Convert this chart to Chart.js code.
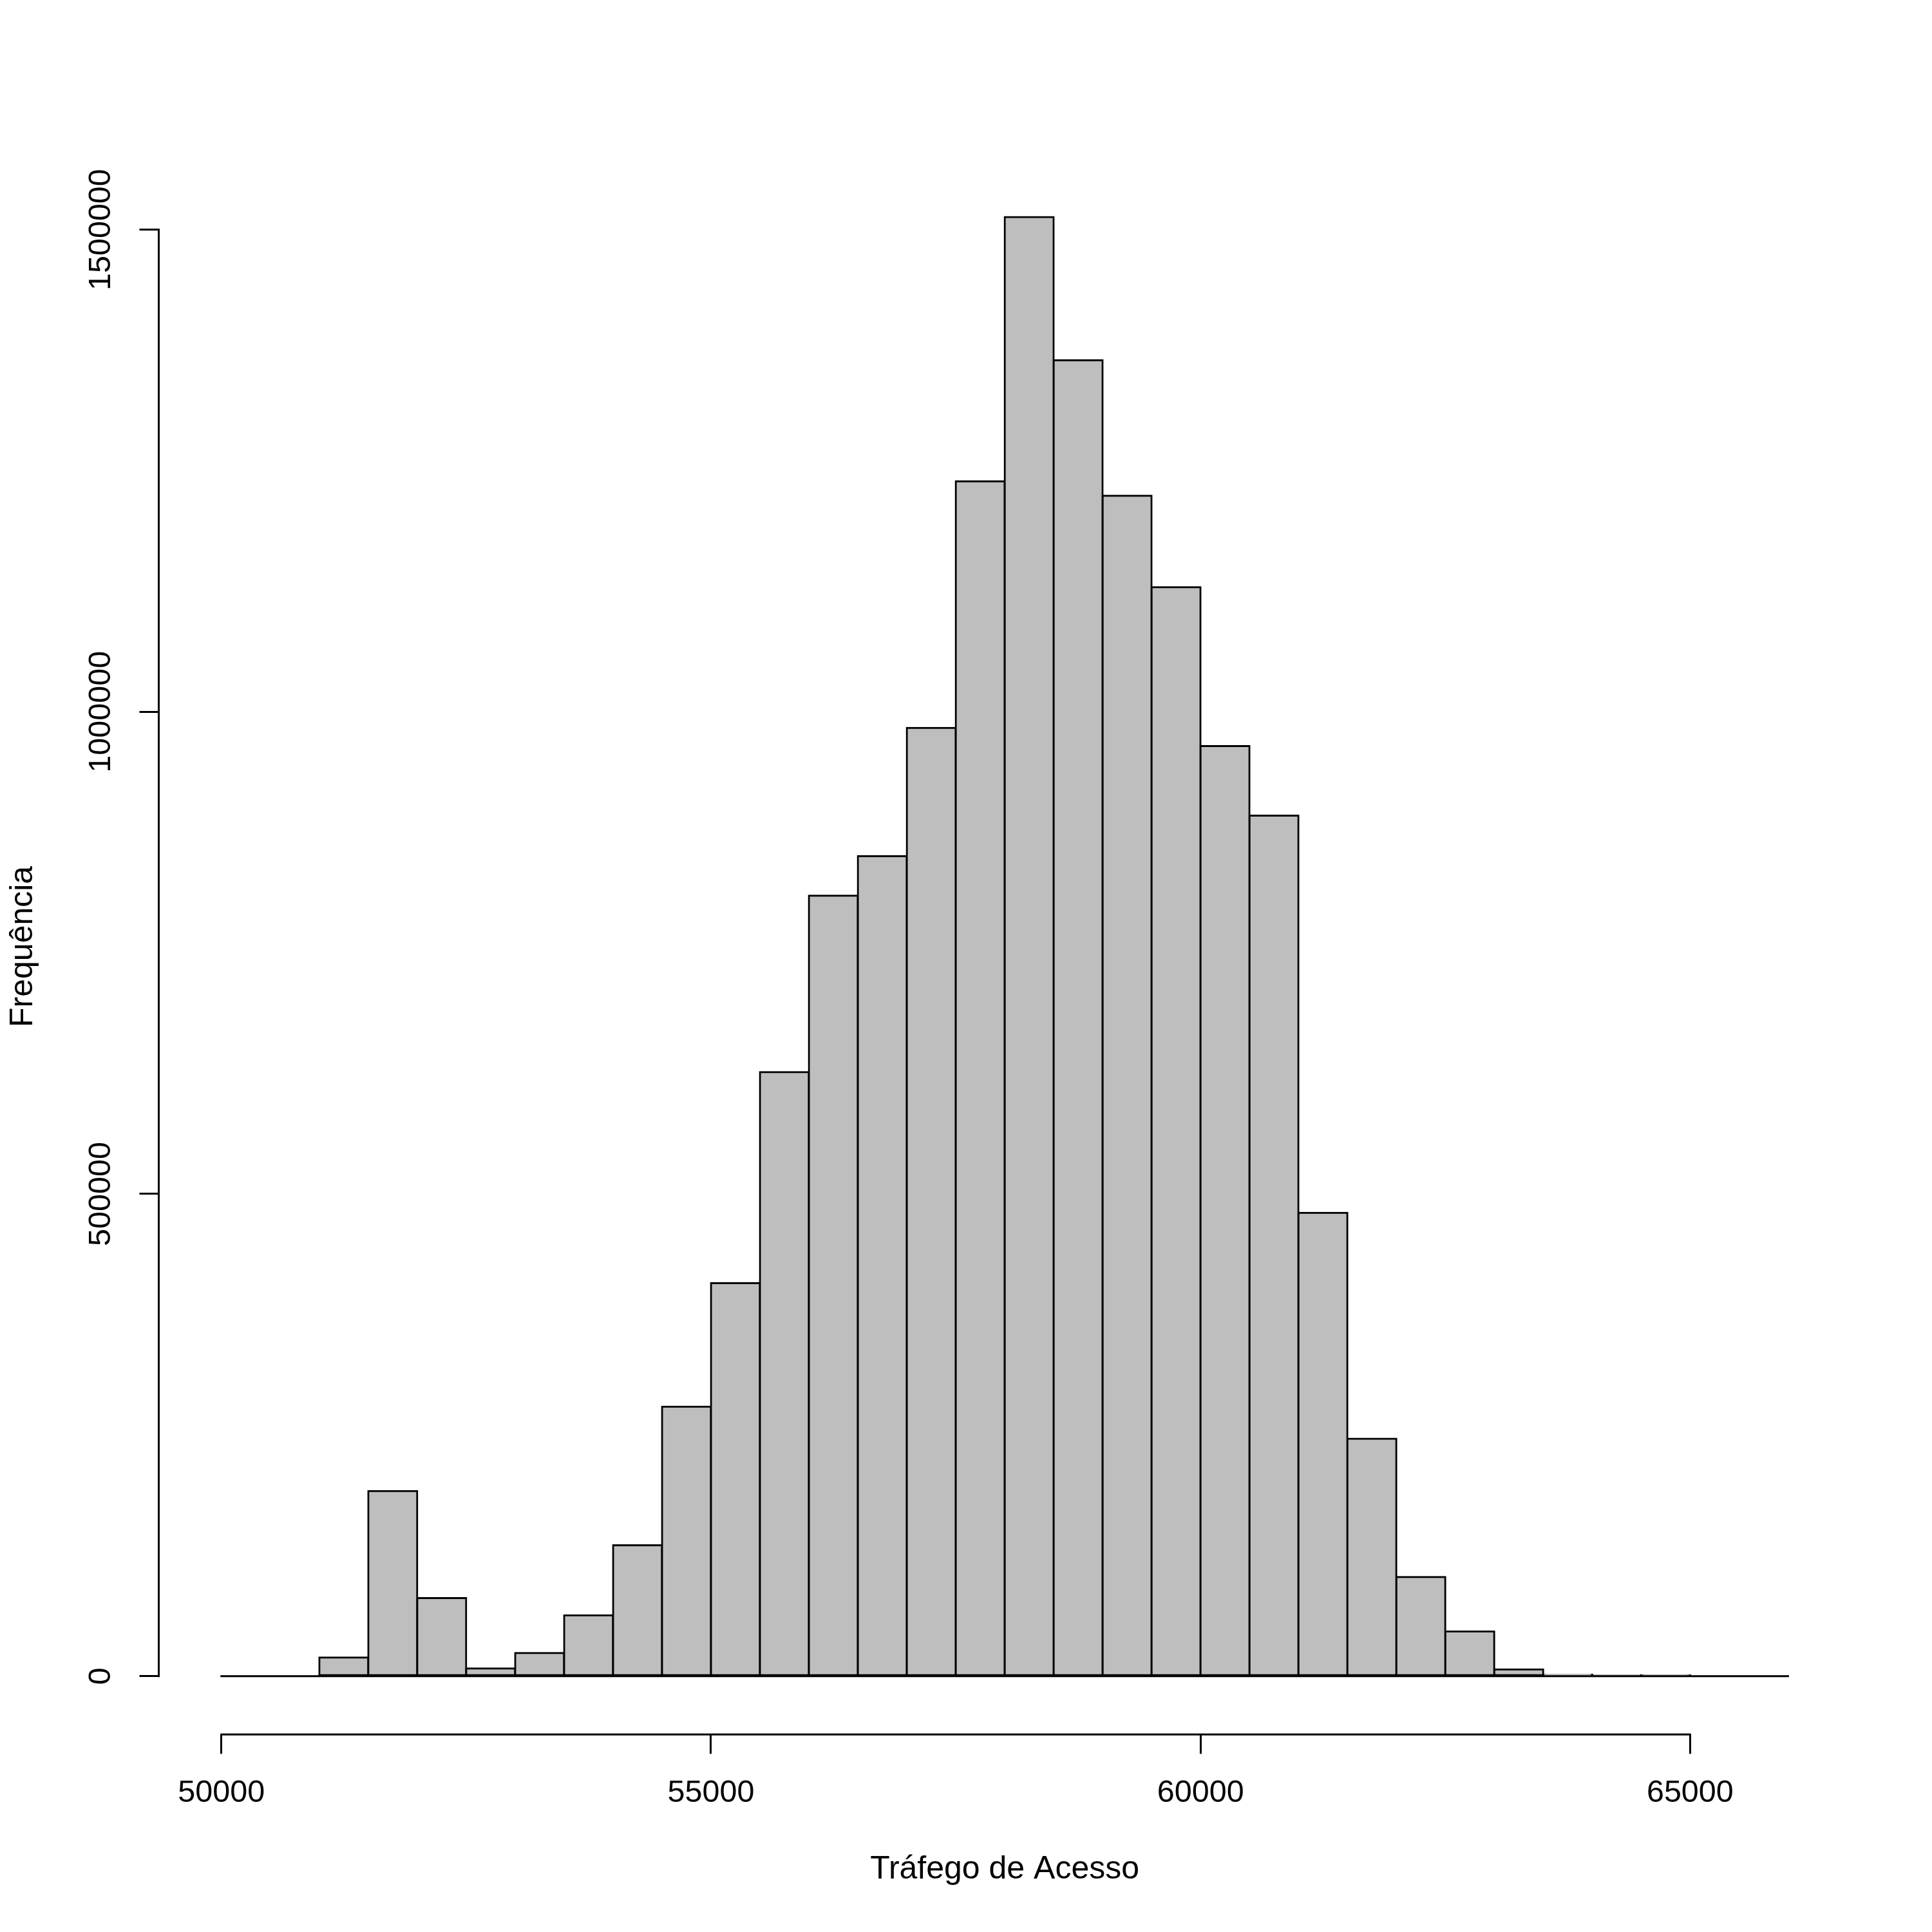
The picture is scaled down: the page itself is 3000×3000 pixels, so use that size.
<!DOCTYPE html>
<html>
<head>
<meta charset="utf-8">
<script src="https://cdn.jsdelivr.net/npm/chart.js@4.4.1/dist/chart.umd.min.js"></script>
<style>
  html, body { margin: 0; padding: 0; background: #fff; }
  #wrap { width: 3000px; height: 3000px; }
</style>
</head>
<body>
<div id="wrap"><canvas id="hist" width="3000" height="3000"></canvas></div>
<script>
// histogram bins (left edges), all 500 wide
const binStarts = [50000, 50500, 51000, 51500, 52000, 52500, 53000, 53500,
  54000, 54500, 55000, 55500, 56000, 56500, 57000, 57500,
  58000, 58500, 59000, 59500, 60000, 60500, 61000, 61500,
  62000, 62500, 63000, 63500, 64000, 64500, 65000, 65500];
const binWidth = 500;
const counts = [0, 0, 19400, 192000, 81000, 8000, 24000, 63000,
  135700, 279500, 407500, 626300, 809300, 850200, 983300, 1239000,
  1513000, 1364500, 1224000, 1129200, 964500, 892400, 480400, 246200,
  102800, 46400, 7000, 1500, 600, 200, 0, 0];
const xTicks = [50000, 55000, 60000, 65000];
const yTicks = [0, 500000, 1000000, 1500000];
const xTitle = 'Tráfego de Acesso';
const yTitle = 'Frequência';

const FONT = "'Liberation Sans', Arial, Helvetica, sans-serif";
const LW = 3;

// R pads the data range by 4% on each side
const xFrom = binStarts[0], xTo = binStarts[binStarts.length - 1] + binWidth;
const yTop = Math.max(...counts);

// axis lines only span first..last tick, like R's axis(); also the zero line under the bars
const rAxes = {
  id: 'rAxes',
  afterDatasetsDraw(chart) {
    const { ctx, chartArea, scales: { x, y } } = chart;
    ctx.save();
    ctx.strokeStyle = '#000';
    ctx.lineWidth = LW;
    ctx.lineCap = 'square';
    ctx.beginPath();
    ctx.moveTo(x.getPixelForValue(xFrom), y.getPixelForValue(0));
    ctx.lineTo(x.getPixelForValue(xTo), y.getPixelForValue(0));
    ctx.stroke();
    ctx.beginPath();
    ctx.moveTo(x.getPixelForValue(xTicks[0]), chartArea.bottom);
    ctx.lineTo(x.getPixelForValue(xTicks[xTicks.length - 1]), chartArea.bottom);
    ctx.moveTo(chartArea.left, y.getPixelForValue(yTicks[0]));
    ctx.lineTo(chartArea.left, y.getPixelForValue(yTicks[yTicks.length - 1]));
    ctx.stroke();
    // rotated y tick labels
    ctx.fillStyle = '#000';
    ctx.font = '48.5px ' + FONT;
    ctx.textAlign = 'center';
    ctx.textBaseline = 'middle';
    y.ticks.forEach(t => {
      ctx.save();
      ctx.translate(chartArea.left - 88.5, y.getPixelForValue(t.value));
      ctx.rotate(-Math.PI / 2);
      ctx.fillText(String(t.value), 0, 0);
      ctx.restore();
    });
    ctx.restore();
  }
};

new Chart(document.getElementById('hist'), {
  type: 'bar',
  data: {
    datasets: [{
      data: binStarts.map((s, i) => ({ x: s + binWidth / 2, y: counts[i] })),
      backgroundColor: '#bebebe',
      borderColor: '#000',
      borderWidth: LW,
      borderSkipped: false,
      inflateAmount: LW / 2,
      barPercentage: 1,
      categoryPercentage: 1
    }]
  },
  options: {
    responsive: false,
    animation: false,
    devicePixelRatio: 1,
    layout: { padding: { top: 246.5, right: 126.3, left: 0, bottom: 0 } },
    plugins: { legend: { display: false }, tooltip: { enabled: false } },
    scales: {
      x: {
        type: 'linear',
        offset: false,
        min: xFrom - 0.04 * (xTo - xFrom),
        max: xTo + 0.04 * (xTo - xFrom),
        afterBuildTicks: s => { s.ticks = xTicks.map(v => ({ value: v })); },
        afterFit: s => { s.height = 306.7; },
        border: { display: false },
        grid: { offset: false, drawOnChartArea: false, drawTicks: true, tickLength: 30, color: '#000', lineWidth: LW },
        ticks: { color: '#000', font: { family: FONT, size: 48.5 }, padding: 32, maxRotation: 0, callback: v => String(v) },
        title: { display: true, text: xTitle, color: '#000', font: { family: FONT, size: 50 }, padding: { top: 0, bottom: 67 } }
      },
      y: {
        min: -0.04 * yTop,
        max: 1.04 * yTop,
        afterBuildTicks: s => { s.ticks = yTicks.map(v => ({ value: v })); },
        afterFit: s => { s.width = 246.5; },
        border: { display: false },
        grid: { drawOnChartArea: false, drawTicks: true, tickLength: 30, color: '#000', lineWidth: LW },
        ticks: { display: false },
        title: { display: true, text: yTitle, color: '#000', font: { family: FONT, size: 50 }, padding: { top: 6.7, bottom: 0 } }
      }
    }
  },
  plugins: [rAxes]
});
</script>
</body>
</html>
